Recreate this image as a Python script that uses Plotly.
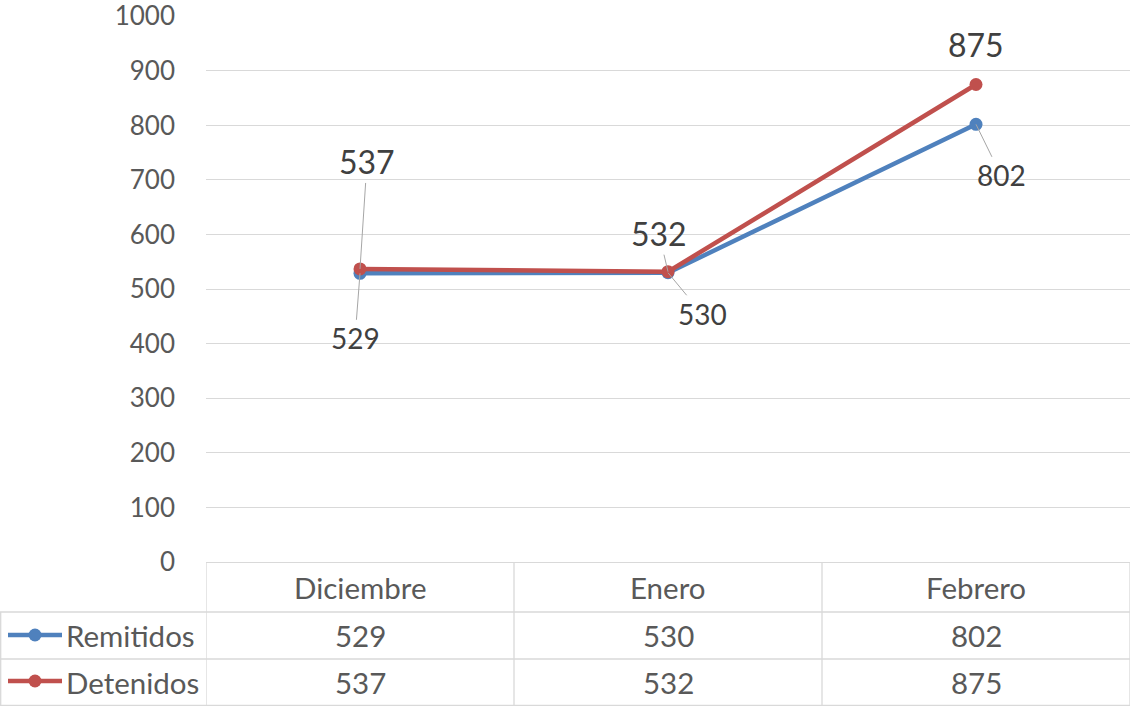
import plotly.graph_objects as go

categories = ["Diciembre", "Enero", "Febrero"]
remitidos = [529, 530, 802]
detenidos = [537, 532, 875]
series_names = ["Remitidos", "Detenidos"]
y_ticks = [0, 100, 200, 300, 400, 500, 600, 700, 800, 900, 1000]

W, H = 1130, 706
BLUE = "#4F81BD"
RED = "#C0504D"
GRID = "#D9D9D9"
TXT = "#595959"
LBL = "#404040"
FONT = "Lato"
FS_TICK = 26
FS_TAB = 29.5
FS_SMALL = 28
FS_BIG = 32

def px(x):
    return x / W

def py(y):
    return (H - y) / H

xs = list(range(len(categories)))

fig = go.Figure()
fig.add_trace(go.Scatter(x=xs, y=remitidos, mode="lines+markers", name=series_names[0],
                         line=dict(color=BLUE, width=4.5), marker=dict(size=13, color=BLUE)))
fig.add_trace(go.Scatter(x=xs, y=detenidos, mode="lines+markers", name=series_names[1],
                         line=dict(color=RED, width=4.5), marker=dict(size=13, color=RED)))

annotations = []
rem_off = [(-5, 65), (34, 41), (25, 51)]
for i, v in enumerate(remitidos):
    ax, ay = rem_off[i]
    annotations.append(dict(x=i, y=v, xref="x", yref="y", text=str(v), showarrow=True,
                            arrowhead=0, arrowwidth=1, arrowcolor="#A6A6A6", ax=ax, ay=ay,
                            font=dict(family=FONT, size=FS_SMALL, color=LBL)))
det_off = [(7, -107), (-9, -38), (0, -40)]
for i, v in enumerate(detenidos):
    ax, ay = det_off[i]
    annotations.append(dict(x=i, y=v, xref="x", yref="y", text=str(v),
                            showarrow=(i != 2),
                            arrowhead=0, arrowwidth=1, arrowcolor="#A6A6A6", ax=ax, ay=ay,
                            yshift=(40 if i == 2 else 0),
                            font=dict(family=FONT, size=FS_BIG, color=LBL)))

row_y = [py(587), py(635), py(682)]
for i, c in enumerate(categories):
    for r, txt in enumerate([c, str(remitidos[i]), str(detenidos[i])]):
        annotations.append(dict(x=i, y=row_y[r], xref="x", yref="paper", text=txt,
                                showarrow=False, xanchor="center", yanchor="middle",
                                font=dict(family=FONT, size=FS_TAB, color=TXT)))
for j, nm in enumerate(series_names):
    annotations.append(dict(x=px(64), y=row_y[j + 1], xref="paper", yref="paper", text=nm,
                            showarrow=False, xanchor="left", yanchor="middle",
                            font=dict(family=FONT, size=FS_TAB, color=TXT)))

shapes = []
line_style = dict(color=GRID, width=1.3)
for xv in [-0.5, 0.5, 1.5, 2.5]:
    shapes.append(dict(type="line", xref="x", yref="paper", x0=xv, x1=xv, y0=py(562), y1=0,
                       line=line_style))
shapes.append(dict(type="line", xref="paper", yref="paper", x0=px(0.7), x1=px(0.7), y0=py(612), y1=0,
                   line=line_style))
for yv in [612, 659, 705.5]:
    shapes.append(dict(type="line", xref="paper", yref="paper", x0=0, x1=1, y0=py(yv), y1=py(yv),
                       line=line_style))
for j, col in enumerate([BLUE, RED]):
    cy = [635, 681][j]
    yc = py(cy)
    shapes.append(dict(type="line", xref="paper", yref="paper", x0=px(8), x1=px(62), y0=yc, y1=yc,
                       line=dict(color=col, width=4.5)))
    r = 6.5
    shapes.append(dict(type="circle", xref="paper", yref="paper", x0=px(35 - r), x1=px(35 + r),
                       y0=py(cy + r), y1=py(cy - r), fillcolor=col, line=dict(color=col, width=0)))

fig.update_layout(
    width=W, height=H,
    margin=dict(l=0, r=0, t=0, b=0, pad=0, autoexpand=False),
    paper_bgcolor="white", plot_bgcolor="white",
    showlegend=False,
    annotations=annotations,
    shapes=shapes,
    xaxis=dict(domain=[px(206), 1], range=[-0.5, 2.5], showticklabels=False, showgrid=False,
               zeroline=False, showline=True, linecolor=GRID, linewidth=1.3, ticks="",
               automargin=False),
    yaxis=dict(domain=[py(562), py(16)], range=[0, 1000.5], tickvals=y_ticks,
               ticktext=[str(t) for t in y_ticks], showgrid=True, gridcolor=GRID, gridwidth=1.3,
               zeroline=False, showline=False, ticks="", ticklabelstandoff=30,
               automargin=False, ticklabeloverflow="allow",
               tickfont=dict(family=FONT, size=FS_TICK, color=TXT)),
)

fig.write_html("out.html", config={"displayModeBar": False},
               post_script="document.body.style.margin='0';document.body.style.overflow='hidden';")
